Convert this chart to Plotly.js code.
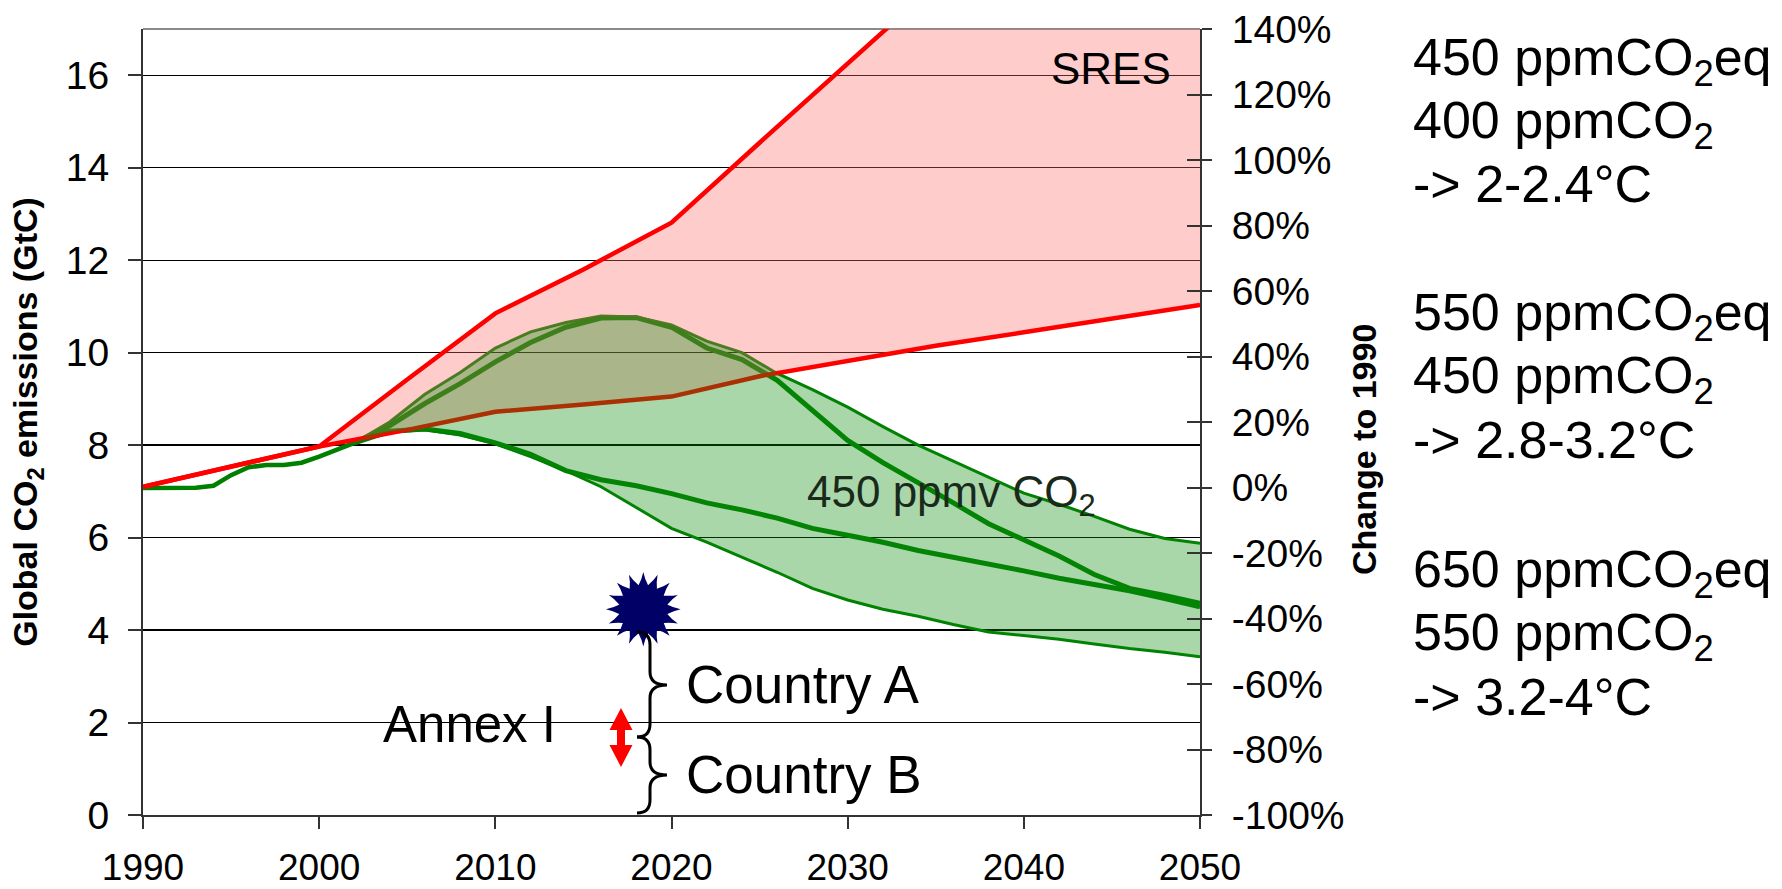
<!DOCTYPE html>
<html>
<head>
<meta charset="utf-8">
<script src="https://cdn.plot.ly/plotly-3.0.1.min.js"></script>
<style>
html,body{margin:0;padding:0;background:#fff;}
#chart{width:1782px;height:889px;}
</style>
</head>
<body>
<div id="chart"></div>
<script>
// ---------------- DATA ----------------
const sresYears = [1990,1995,2000,2005,2010,2015,2020,2025,2030,2035,2040,2045,2050];
const sresHigh  = [7.10,7.53,7.97,9.42,10.85,11.80,12.81,14.54,16.27,18.0,19.7,21.4,23.1];
const sresLow   = [7.10,7.53,7.97,8.33,8.72,8.88,9.05,9.49,9.83,10.15,10.44,10.74,11.03];

const histYears  = [1990,1991,1992,1993,1994,1995,1996,1997,1998,1999,2000,2001,2002];
const histValues = [7.07,7.07,7.07,7.08,7.12,7.35,7.52,7.57,7.57,7.62,7.75,7.90,8.05];

const scenYears = [2002,2004,2006,2008,2010,2012,2014,2016,2018,2020,2022,2024,2026,2028,2030,2032,2034,2036,2038,2040,2042,2044,2046,2048,2050];
const upperEnvelope = [8.05,8.50,9.10,9.57,10.10,10.45,10.65,10.79,10.77,10.60,10.25,10.00,9.55,9.20,8.82,8.40,8.00,7.65,7.30,6.96,6.72,6.46,6.18,5.98,5.88];
const pathA = [8.05,8.42,8.90,9.33,9.80,10.22,10.55,10.75,10.76,10.55,10.10,9.85,9.40,8.75,8.10,7.62,7.20,6.75,6.30,5.95,5.60,5.20,4.90,4.75,4.58];
const pathB = [8.05,8.30,8.35,8.25,8.05,7.80,7.45,7.25,7.12,6.95,6.75,6.60,6.42,6.20,6.05,5.90,5.72,5.58,5.42,5.28,5.12,4.98,4.85,4.68,4.50];
const lowerEnvelope = [8.05,8.28,8.33,8.22,8.03,7.75,7.45,7.10,6.65,6.20,5.90,5.58,5.25,4.90,4.65,4.45,4.30,4.12,3.96,3.88,3.80,3.70,3.60,3.52,3.42];

const starYear = [2018.4];
const starValue = [4.45];

const xTickVals = [1990,2000,2010,2020,2030,2040,2050];
const yTickVals = [0,2,4,6,8,10,12,14,16];
const pctTickVals = [-100,-80,-60,-40,-20,0,20,40,60,80,100,120,140];
const yRange = [0,17];
const pctRange = [-100,140];

const scenarioLines = [
  ['450 ppmCO<sub>2</sub>eq','400 ppmCO<sub>2</sub>','-> 2-2.4°C'],
  ['550 ppmCO<sub>2</sub>eq','450 ppmCO<sub>2</sub>','-> 2.8-3.2°C'],
  ['650 ppmCO<sub>2</sub>eq','550 ppmCO<sub>2</sub>','-> 3.2-4°C']
];
// ---------------- LAYOUT GEOMETRY ----------------
const W = 1782, H = 889;
const M = {l:143, r:582, t:29, b:74};
const PW = W - M.l - M.r, PH = H - M.t - M.b;
const px = v => (v - M.l) / PW;       // page pixel -> paper x
const py = v => (H - M.b - v) / PH;   // page pixel -> paper y

const FONT = 'Liberation Sans, Arial, Helvetica, sans-serif';
const GREEN = '#008000';
const RED = '#ff0000';
const NOLINE = {width:0, color:'rgba(0,0,0,0)'};

const traces = [];
const g = (x, y, w) => ({x, y, type:'scatter', mode:'lines', line:{color:GREEN, width:w}, hoverinfo:'skip', showlegend:false});
traces.push(g(histYears, histValues, 4.5));
traces.push(g(scenYears, lowerEnvelope, 3));
traces.push(g(scenYears, upperEnvelope, 3));
traces.push(g(scenYears, pathB, 5));
traces.push(g(scenYears, pathA, 5));
// SRES pink band
traces.push({x:sresYears, y:sresLow, type:'scatter', mode:'lines', line:NOLINE, hoverinfo:'skip', showlegend:false});
traces.push({x:sresYears, y:sresHigh, type:'scatter', mode:'lines', line:NOLINE, fill:'tonexty', fillcolor:'rgba(255,109,109,0.35)', hoverinfo:'skip', showlegend:false});
traces.push({x:sresYears, y:sresLow, type:'scatter', mode:'lines', line:{color:RED, width:4.5}, hoverinfo:'skip', showlegend:false});
traces.push({x:sresYears, y:sresHigh, type:'scatter', mode:'lines', line:{color:RED, width:4.5}, hoverinfo:'skip', showlegend:false});
// 450 ppmv green band
traces.push({x:scenYears, y:lowerEnvelope, type:'scatter', mode:'lines', line:NOLINE, hoverinfo:'skip', showlegend:false});
traces.push({x:scenYears, y:upperEnvelope, type:'scatter', mode:'lines', line:NOLINE, fill:'tonexty', fillcolor:'rgba(12,141,12,0.35)', hoverinfo:'skip', showlegend:false});
// starburst
const nStar = 5;
traces.push({x:Array(nStar).fill(starYear[0]), y:Array(nStar).fill(starValue[0]), type:'scatter', mode:'markers',
  marker:{color:'#000066', opacity:1, symbol:['circle','star-square','star-square','star-square','star-square'],
          size:[42,48,48,48,48], angle:[0,0,22.5,45,67.5], line:{width:0}},
  hoverinfo:'skip', showlegend:false, cliponaxis:false});
// percent axes anchors (same data expressed as change to 1990)
const base = yRange[1] / (1 + pctRange[1]/100);
const pct = sresLow.map(v => (v/base - 1)*100);
traces.push({x:sresYears, y:pct, yaxis:'y2', type:'scatter', mode:'lines', line:NOLINE, hoverinfo:'skip', showlegend:false});
traces.push({x:sresYears, y:pct, yaxis:'y3', type:'scatter', mode:'lines', line:NOLINE, hoverinfo:'skip', showlegend:false});

// ---------------- ANNOTATIONS ----------------
const ann = [];
const txt = (text, xPix, topPix, size, color) => ({text, xref:'paper', yref:'paper', x:px(xPix), y:py(topPix),
  xanchor:'left', yanchor:'top', showarrow:false, font:{family:FONT, size, color:color||'#000'}});
const blockBase = [[75,138,202],[330,393,458],[587,650,715]];
const SZ = 52;
scenarioLines.forEach((blk, i) => blk.forEach((line, j) => ann.push(txt(line, 1411, blockBase[i][j] - 0.905*SZ - 2, SZ))));
ann.push(txt('SRES', 1049, 42, 44));
ann.push(txt('450 ppmv CO<sub>2</sub>', 805, 465, 44, '#1a2a1a'));
ann.push(txt('Country A', 684, 653, 53));
ann.push(txt('Country B', 684, 743, 53));
ann.push(txt('Annex I', 381, 694, 51));
// right-hand axis title
ann.push({text:'<b>Change to 1990</b>', xref:'paper', yref:'paper', x:px(1364), y:py(450), xanchor:'center', yanchor:'middle',
  textangle:-90, showarrow:false, font:{family:FONT, size:34, color:'#000'}});

// ---------------- SHAPES (decorations) ----------------
const P = (x, y) => px(x).toFixed(5) + ',' + py(y).toFixed(5);
function brace(y0, ym, y1) {
  const xt = 637, xs = 650, xp = 667, r = 13;
  return 'M' + P(xt,y0) + ' Q' + P(xs,y0) + ' ' + P(xs,y0+r) +
         ' L' + P(xs,ym-r) + ' Q' + P(xs,ym) + ' ' + P(xp,ym) +
         ' Q' + P(xs,ym) + ' ' + P(xs,ym+r) +
         ' L' + P(xs,y1-r) + ' Q' + P(xs,y1) + ' ' + P(xt,y1);
}
const arrowPath = 'M' + P(621,708) + ' L' + P(632.5,730) + ' L' + P(625,730) + ' L' + P(625,745) + ' L' + P(632.5,745) +
  ' L' + P(621,767) + ' L' + P(609.5,745) + ' L' + P(617,745) + ' L' + P(617,730) + ' L' + P(609.5,730) + ' Z';
const shapes = [
  {type:'line', xref:'paper', yref:'paper', x0:0, x1:1, y0:1, y1:1, line:{color:'#8a8a8a', width:2}, layer:'below'},
  {type:'path', xref:'paper', yref:'paper', path:brace(632,685,737), line:{color:'#000', width:3}},
  {type:'path', xref:'paper', yref:'paper', path:brace(737,775,813), line:{color:'#000', width:3}},
  {type:'path', xref:'paper', yref:'paper', path:arrowPath, fillcolor:RED, line:{width:0}}
];

const tickFont = {family:FONT, size:39, color:'#000'};
const layout = {
  width:W, height:H,
  margin:{l:M.l, r:M.r, t:M.t, b:M.b, pad:0, autoexpand:false},
  paper_bgcolor:'#fff', plot_bgcolor:'#fff',
  showlegend:false,
  font:{family:FONT, color:'#000'},
  xaxis:{range:[1990,2050], tickvals:xTickVals, ticks:'outside', ticklen:12, tickwidth:2, tickcolor:'#333',
         showline:true, linecolor:'#333', linewidth:2, showgrid:false, zeroline:false,
         tickfont:{family:FONT, size:37, color:'#000'}, ticklabelstandoff:7, automargin:false, fixedrange:true},
  yaxis:{range:yRange, tickvals:yTickVals, ticks:'outside', ticklen:13, tickwidth:2, tickcolor:'#333',
         showline:true, linecolor:'#333', linewidth:2, showgrid:true, gridcolor:'#000', gridwidth:1.3,
         zeroline:false, tickfont:tickFont, ticklabelstandoff:11, automargin:false, fixedrange:true,
         title:{text:'<b>Global CO<sub>2</sub> emissions (GtC)</b>', font:{family:FONT, size:34, color:'#000'}, standoff:18}},
  yaxis2:{range:pctRange, tickvals:pctTickVals, ticktext:pctTickVals.map(v => v + '%'), overlaying:'y', side:'right', anchor:'x',
          ticks:'outside', ticklen:10, tickwidth:2, tickcolor:'#333', showline:true, linecolor:'#333', linewidth:2,
          showgrid:false, zeroline:false, tickfont:tickFont, ticklabelstandoff:12, automargin:false, fixedrange:true},
  yaxis3:{range:pctRange, tickvals:pctTickVals, overlaying:'y', side:'right', anchor:'x', ticks:'inside', ticklen:13,
          tickwidth:2, tickcolor:'#333', showticklabels:false, showline:false, showgrid:false, zeroline:false,
          automargin:false, fixedrange:true},
  annotations:ann,
  shapes:shapes
};
Plotly.newPlot('chart', traces, layout, {staticPlot:true, displayModeBar:false});
</script>
</body>
</html>
